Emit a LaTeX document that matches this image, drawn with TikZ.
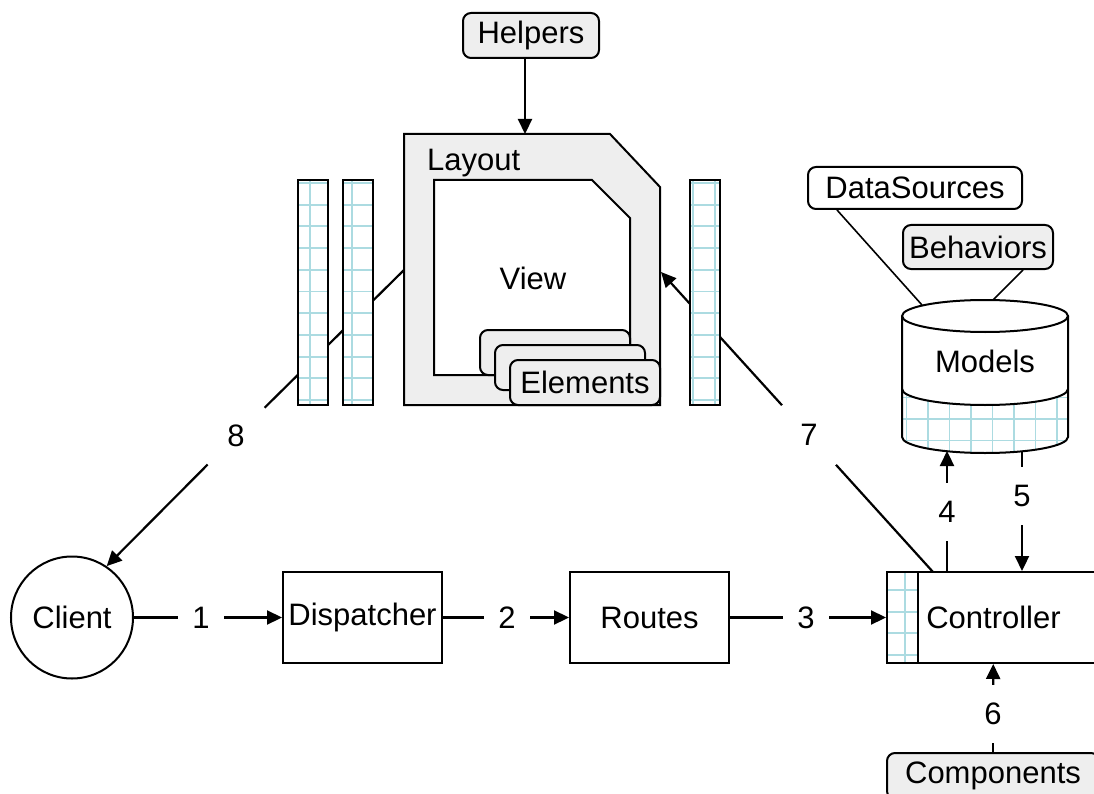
\documentclass[tikz,border=0pt]{standalone}
\usepackage{fontspec}
\setmainfont{Liberation Sans}
\usetikzlibrary{arrows.meta,calc,backgrounds}

\definecolor{boxgray}{RGB}{238,238,238}
\definecolor{gridcyan}{RGB}{172,219,225}

% light cell grid inside a box: vertical offsets, first row offset, number of rows
\newcommand\cellgrid[3]{%
  \foreach \g in {#1} {\draw[gridline] ($(path picture bounding box.north west)+(\g,-5)$) -- ++(0,260);}
  \foreach \k in {0,...,#3} {\draw[gridline] ($(path picture bounding box.north west)+(-5,{#2+\k*21.7})$) -- ++(50,0);}
}

\tikzset{
  gridline/.style={draw=gridcyan, line width=1.9pt},
  gridbox/.style n args={3}{draw, line width=2pt, fill=white, inner sep=0pt,
    path picture={\cellgrid{#1}{#2}{#3}}},
  plainbox/.style={draw, line width=2pt, fill=white, inner sep=0pt},
  roundbox/.style={draw, line width=2pt, rounded corners=8pt, inner sep=0pt},
  lbl/.style={inner sep=0pt, minimum width=46pt, minimum height=58pt},
  dlbl/.style={circle, inner sep=0pt, minimum size=80pt},
  conn/.style={line width=2.2pt},
  thin conn/.style={line width=1.6pt},
  arr/.style={-{Triangle[length=15pt,width=14pt]}},
}

\begin{document}
\begin{tikzpicture}[x=1pt, y=-1pt, font=\fontsize{31}{36}\selectfont]
\useasboundingbox (0,0) rectangle (1094,794);

% ---------- fixed points on shapes drawn as paths ----------
\coordinate (layoutN) at (525,134);
\coordinate (layoutW) at (404,270);
\coordinate (layoutE) at (661,272);
\coordinate (mTopA) at (922,305);
\coordinate (mTopB) at (993,300);
\coordinate (mBotA) at (947,451);
\coordinate (mBotB) at (1022,451);
\coordinate (ctrlTop) at (933,572);

% ---------- nodes ----------
\node[roundbox, fill=boxgray, minimum width=136pt, minimum height=45pt] (Helpers) at (531,35.5) {Helpers};
\node[roundbox, fill=white, minimum width=214pt, minimum height=42pt] (DataSources) at (915,188) {DataSources};
\node[roundbox, fill=boxgray, minimum width=150pt, minimum height=44pt] (Behaviors) at (978,247) {Behaviors};

\node[draw, circle, line width=2pt, fill=white, minimum size=122pt, inner sep=0pt] (Client) at (72,617.5) {Client};
\node[plainbox, minimum width=159pt, minimum height=91pt] (Dispatcher) at (362.5,617.5) {Dispatcher};
\node[plainbox, minimum width=159pt, minimum height=91pt] (Routes) at (649.5,617.5) {Routes};
\node[plainbox, minimum width=213pt, minimum height=91pt] (Controller) at (993.5,617.5) {Controller};
\node[gridbox={18}{18}{3}, minimum width=31pt, minimum height=91pt] (CtrlStrip) at (902.5,617.5) {};
\node[roundbox, fill=boxgray, minimum width=212pt, minimum height=46pt] (Components) at (993,776) {Components};

% step labels
\node[lbl] (l1) at (201,617.5) {1};
\node[lbl] (l2) at (507,617.5) {2};
\node[lbl] (l3) at (806,617.5) {3};
\node[lbl] (l4) at (947,512) {4};
\node[lbl] (l5) at (1022,496) {5};
\node[lbl] (l6) at (993,714) {6};
\node[dlbl] (l7) at (809,435) {7};
\node[dlbl] (l8) at (236,436) {8};

% ---------- connectors ----------
\begin{scope}[on background layer]
  \draw[conn] (Client) -- (l1);
  \draw[conn, arr] (l1) -- (Dispatcher);
  \draw[conn] (Dispatcher) -- (l2);
  \draw[conn, arr] (l2) -- (Routes);
  \draw[conn] (Routes) -- (l3);
  \draw[conn, arr] (l3) -- (CtrlStrip);
  \draw[conn] (Controller.north -| l4) -- (l4);
  \draw[conn, arr] (l4) -- (mBotA);
  \draw[conn] (mBotB) -- (l5);
  \draw[conn, arr] (l5) -- (l5 |- Controller.north);
  \draw[conn] (Components) -- (l6);
  \draw[conn, arr] (l6) -- (Controller);
  \draw[conn] (ctrlTop) -- (l7);
  \draw[conn, arr] (l7) -- (layoutE);
  \draw[conn] (layoutW) -- (l8);
  \draw[conn, arr] (l8) -- (Client.56);
  \draw[conn, arr] (Helpers.south -| layoutN) -- (layoutN);
  \draw[thin conn] ([xshift=30pt]DataSources.south west) -- (mTopA);
  \draw[thin conn] ([xshift=-31pt]Behaviors.south east) -- (mTopB);
\end{scope}

% ---------- Layout frame with View and Elements ----------
\draw[line width=2pt, fill=boxgray] (404,134) -- (610,134) -- (660,187) -- (660,405) -- (404,405) -- cycle;
\draw[line width=2pt, fill=white] (434,180) -- (592,180) -- (630,218) -- (630,375) -- (434,375) -- cycle;
\node[anchor=west, inner sep=0pt] (LayoutTitle) at (427,163) {Layout};
\node (View) at (533,278) {View};
\node[roundbox, fill=boxgray, minimum width=150pt, minimum height=45pt] (el1) at (555,352.5) {};
\node[roundbox, fill=boxgray, minimum width=150pt, minimum height=45pt] (el2) at (570,367.5) {};
\node[roundbox, fill=boxgray, minimum width=150pt, minimum height=45pt] (Elements) at (585,382.5) {Elements};

% ---------- side buffers ----------
\node[gridbox={12}{3}{10}, minimum width=30pt, minimum height=225pt] (b1) at (313,292.5) {};
\node[gridbox={9,31}{3}{10}, minimum width=30pt, minimum height=225pt] (b2) at (358,292.5) {};
\node[gridbox={3,25}{3}{10}, minimum width=30pt, minimum height=225pt] (b3) at (705,292.5) {};

% ---------- Models store ----------
\fill[white] (902,316) -- (902,437) arc[start angle=180, end angle=360, x radius=83pt, y radius=16pt] -- (1068,316) -- cycle;
\begin{scope}
  \clip (902,389) arc[start angle=180, end angle=360, x radius=83pt, y radius=16pt]
        -- (1068,437) arc[start angle=0, end angle=-180, x radius=83pt, y radius=16pt] -- cycle;
  \foreach \k in {0,...,7} {\draw[gridline] ({906.5+\k*21.5},370) -- ++(0,100);}
  \foreach \yy in {397.5,419,440.5} {\draw[gridline] (895,\yy) -- (1075,\yy);}
\end{scope}
\draw[line width=2pt] (902,316) -- (902,437) arc[start angle=180, end angle=360, x radius=83pt, y radius=16pt] -- (1068,316);
\draw[line width=2pt] (902,389) arc[start angle=180, end angle=360, x radius=83pt, y radius=16pt];
\draw[line width=2pt, fill=white] (985,316) ellipse[x radius=83pt, y radius=16pt];
\node (Models) at (985,361) {Models};

\end{tikzpicture}
\end{document}
